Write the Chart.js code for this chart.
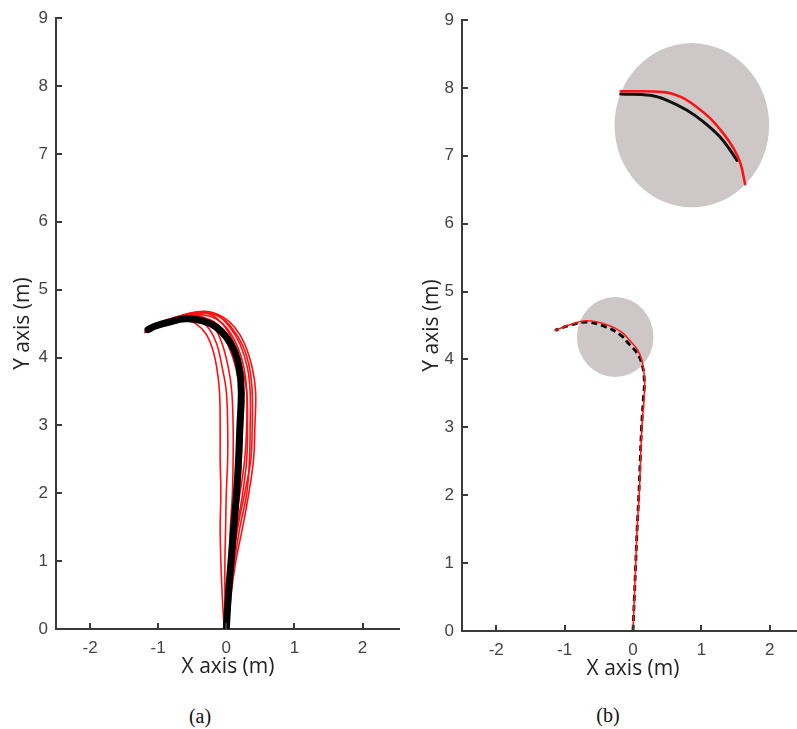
<!DOCTYPE html>
<html>
<head>
<meta charset="utf-8">
<script src="https://cdn.jsdelivr.net/npm/chart.js@4.4.1/dist/chart.umd.min.js"></script>
<style>
  html, body { margin: 0; padding: 0; background: #fff; overflow: hidden; }
  body { width: 797px; height: 729px; position: relative; }
  .panel { position: absolute; top: 0; }
  #chartA { left: 0; }
  #chartB { left: 400px; }
  .caption {
    position: absolute;
    font-family: "Liberation Serif", "Times New Roman", serif;
    font-size: 20px;
    color: #111;
    transform: translate(-50%, -50%);
  }
</style>
</head>
<body>
<canvas id="chartA" class="panel" width="400" height="690"></canvas>
<canvas id="chartB" class="panel" width="420" height="690"></canvas>
<div class="caption" style="left:200px; top:716px;">(a)</div>
<div class="caption" style="left:608px; top:715px;">(b)</div>

<script>
// ---- data (metres) ----

// panel (a): reference path (thick black)
const refAX = [0, 0.03, 0.07, 0.11, 0.15, 0.18, 0.2, 0.22, 0.19, 0.12, 0.0, -0.15, -0.35, -0.6, -0.85, -1.05, -1.15];
const refAY = [0, 0.5, 1.0, 1.5, 2.0, 2.5, 3.0, 3.5, 3.85, 4.1, 4.3, 4.45, 4.54, 4.57, 4.52, 4.46, 4.41];

// panel (a): recorded runs (red), [x, y]
const runA1 = [[-0.03,0],[-0.06,0.5],[-0.08,1.0],[-0.09,1.5],[-0.08,2.0],[-0.09,2.5],[-0.09,3.0],[-0.1,3.5],[-0.14,3.85],[-0.2,4.12],[-0.3,4.35],[-0.45,4.5],[-0.62,4.56],[-0.82,4.54],[-1.0,4.47],[-1.15,4.4]];
const runA2 = [[-0.01,0],[-0.02,0.5],[-0.02,1.0],[-0.01,1.5],[0.0,2.0],[0.02,2.5],[0.02,3.0],[0.0,3.5],[-0.06,3.85],[-0.14,4.2],[-0.25,4.42],[-0.4,4.55],[-0.6,4.6],[-0.8,4.56],[-1.0,4.48],[-1.18,4.38]];
const runA3 = [[0.0,0],[0.02,0.5],[0.04,1.0],[0.06,1.5],[0.09,2.0],[0.1,2.5],[0.1,3.0],[0.08,3.5],[0.03,3.85],[-0.06,4.2],[-0.18,4.45],[-0.35,4.6],[-0.55,4.63],[-0.8,4.58],[-1.0,4.5],[-1.17,4.42]];
const runA4 = [[0.02,0],[0.06,0.5],[0.1,1.0],[0.16,1.5],[0.24,2.0],[0.3,2.5],[0.31,3.0],[0.3,3.5],[0.23,3.85],[0.12,4.2],[-0.02,4.45],[-0.2,4.62],[-0.4,4.66],[-0.65,4.62],[-0.9,4.52],[-1.15,4.4]];
const runA5 = [[0.01,0],[0.05,0.5],[0.12,1.0],[0.2,1.5],[0.3,2.0],[0.34,2.5],[0.35,3.0],[0.35,3.5],[0.31,3.85],[0.2,4.2],[0.05,4.45],[-0.12,4.62],[-0.3,4.68],[-0.55,4.65],[-0.85,4.55],[-1.12,4.42]];
const runA6 = [[0.03,0],[0.07,0.5],[0.14,1.0],[0.24,1.5],[0.33,2.0],[0.4,2.5],[0.42,3.0],[0.43,3.5],[0.38,3.85],[0.27,4.2],[0.12,4.45],[-0.05,4.6],[-0.25,4.67],[-0.5,4.66],[-0.8,4.57],[-1.1,4.44]];
const runA7 = [[0.0,0],[0.03,0.5],[0.08,1.0],[0.12,1.5],[0.16,2.0],[0.2,2.5],[0.24,3.0],[0.25,3.5],[0.2,3.85],[0.1,4.2],[-0.04,4.4],[-0.22,4.55],[-0.45,4.6],[-0.7,4.58],[-0.95,4.49],[-1.2,4.37]];
const runA8 = [[-0.02,0],[0.01,0.5],[0.05,1.0],[0.1,1.5],[0.2,2.0],[0.27,2.5],[0.3,3.0],[0.3,3.5],[0.26,3.85],[0.17,4.15],[0.02,4.42],[-0.15,4.57],[-0.35,4.63],[-0.6,4.62],[-0.88,4.53],[-1.16,4.41]];
const runA9 = [[0.01,0],[0.04,0.5],[0.09,1.0],[0.14,1.5],[0.19,2.0],[0.22,2.5],[0.23,3.0],[0.2,3.5],[0.14,3.85],[0.04,4.15],[-0.1,4.4],[-0.28,4.55],[-0.5,4.61],[-0.75,4.57],[-1.0,4.48],[-1.19,4.39]];
const runA10 = [[0.02,0],[0.05,0.5],[0.1,1.0],[0.17,1.5],[0.27,2.0],[0.36,2.5],[0.38,3.0],[0.38,3.5],[0.34,3.85],[0.24,4.18],[0.08,4.44],[-0.1,4.6],[-0.32,4.66],[-0.58,4.63],[-0.86,4.54],[-1.13,4.41]];

// panel (b): reference (black) and mean run (red)
const refBX = [0, 0.02, 0.04, 0.06, 0.085, 0.105, 0.125, 0.15, 0.165, 0.12, 0.04, -0.06, -0.18, -0.4, -0.67, -0.9, -1.14];
const refBY = [0, 0.5, 1.0, 1.5, 2.0, 2.5, 3.0, 3.4, 3.7, 3.97, 4.12, 4.23, 4.36, 4.48, 4.55, 4.51, 4.43];
const runBX = [0, 0.02, 0.04, 0.06, 0.09, 0.11, 0.13, 0.16, 0.17, 0.13, 0.06, -0.04, -0.16, -0.38, -0.67, -0.9, -1.14];
const runBY = [0, 0.5, 1.0, 1.5, 2.0, 2.5, 3.0, 3.4, 3.7, 3.99, 4.15, 4.27, 4.4, 4.51, 4.57, 4.52, 4.43];

// panel (b): magnified view of the turn
const zoomRefX = [-0.18, 0.25, 0.49, 0.79, 1.03, 1.27, 1.45, 1.52];
const zoomRefY = [7.91, 7.89, 7.82, 7.67, 7.50, 7.28, 7.04, 6.93];
const zoomRunX = [-0.18, 0.44, 0.69, 0.93, 1.13, 1.32, 1.47, 1.57, 1.64];
const zoomRunY = [7.95, 7.94, 7.87, 7.72, 7.55, 7.33, 7.11, 6.89, 6.58];

// panel (b): shaded circles (centre x, centre y, radius x, radius y)
const circleX = [-0.26, 0.86];
const circleY = [4.33, 7.45];
const circleRX = [0.56, 1.13];
const circleRY = [0.59, 1.21];

const xTickValues = [-2, -1, 0, 1, 2];
const yTickValues = [0, 1, 2, 3, 4, 5, 6, 7, 8, 9];

// ---- styling ----
const axisColor = '#3a3a3a';
const tickColor = '#444';
const shadeColor = '#cdc7c7';

const toPoints = (xs, ys) => xs.map((x, i) => ({ x: x, y: ys[i] }));
const pairsToPoints = pairs => pairs.map(p => ({ x: p[0], y: p[1] }));

// tick marks pointing into the plot, like MATLAB
const inwardTicks = {
  id: 'inwardTicks',
  afterDraw(chart) {
    const { ctx, chartArea, scales } = chart;
    ctx.save();
    ctx.strokeStyle = axisColor;
    ctx.lineWidth = 2;
    ctx.beginPath();
    scales.x.ticks.forEach(t => {
      const px = Math.round(scales.x.getPixelForValue(t.value));
      ctx.moveTo(px, chartArea.bottom);
      ctx.lineTo(px, chartArea.bottom - 6);
    });
    scales.y.ticks.forEach(t => {
      const py = Math.round(scales.y.getPixelForValue(t.value));
      ctx.moveTo(chartArea.left, py);
      ctx.lineTo(chartArea.left + 6, py);
    });
    ctx.stroke();
    ctx.restore();
  }
};

const shadeCircles = {
  id: 'shadeCircles',
  beforeDatasetsDraw(chart, args, opts) {
    const n = opts.cx ? opts.cx.length : 0;
    const { ctx, scales: { x, y } } = chart;
    ctx.save();
    ctx.fillStyle = shadeColor;
    for (let i = 0; i < n; i++) {
      const cx = x.getPixelForValue(opts.cx[i]);
      const cy = y.getPixelForValue(opts.cy[i]);
      const rx = Math.abs(x.getPixelForValue(opts.cx[i] + opts.rx[i]) - cx);
      const ry = Math.abs(y.getPixelForValue(opts.cy[i] + opts.ry[i]) - cy);
      ctx.beginPath();
      ctx.ellipse(cx, cy, rx, ry, 0, 0, Math.PI * 2);
      ctx.fill();
    }
    ctx.restore();
  }
};

const line = (data, color, width, extra) => Object.assign({
  data: data,
  showLine: true,
  borderColor: color,
  backgroundColor: color,
  borderWidth: width,
  pointRadius: 0,
  tension: 0.4,
  borderCapStyle: 'round',
  borderJoinStyle: 'round'
}, extra || {});

const makeOptions = (cfg) => ({
  responsive: false,
  animation: false,
  layout: { padding: cfg.padding },
  plugins: {
    legend: { display: false },
    tooltip: { enabled: false },
    shadeCircles: cfg.circles || {}
  },
  scales: {
    x: {
      type: 'linear',
      min: -2.5,
      max: cfg.xMax,
      afterBuildTicks: s => { s.ticks = xTickValues.map(v => ({ value: v })); },
      afterFit: s => { s.height = 51; },
      grid: { drawOnChartArea: false, drawTicks: false },
      border: { display: true, color: axisColor, width: 2 },
      ticks: {
        color: tickColor,
        padding: 9,
        font: { family: '"Liberation Sans", Arial, sans-serif', size: 17 }
      },
      title: {
        display: true,
        text: 'X axis (m)',
        color: '#222',
        padding: 0,
        font: { family: '"Open Sans", sans-serif', size: 21 }
      }
    },
    y: {
      type: 'linear',
      min: 0,
      max: 9,
      afterBuildTicks: s => { s.ticks = yTickValues.map(v => ({ value: v })); },
      afterFit: s => { s.width = cfg.yWidth; },
      grid: { drawOnChartArea: false, drawTicks: false },
      border: { display: true, color: axisColor, width: 2 },
      ticks: {
        color: tickColor,
        padding: 8,
        font: { family: '"Liberation Sans", Arial, sans-serif', size: 17 }
      },
      title: {
        display: true,
        text: 'Y axis (m)',
        color: '#222',
        padding: 0,
        font: { family: '"Open Sans", sans-serif', size: 21 }
      }
    }
  }
});

// ---- panel (a) ----
// chart.js paints dataset 0 last, so the thick reference goes first to sit on top
const runsA = [runA1, runA2, runA3, runA4, runA5, runA6, runA7, runA8, runA9, runA10];
new Chart(document.getElementById('chartA'), {
  type: 'scatter',
  data: {
    datasets: [line(toPoints(refAX, refAY), '#000', 7)]
      .concat(runsA.map(r => line(pairsToPoints(r), '#ff1010', 1.6)))
  },
  options: makeOptions({
    xMax: 2.55,
    yWidth: 46,
    padding: { left: 10, top: 17, right: 0, bottom: 10 }
  }),
  plugins: [inwardTicks]
});

// ---- panel (b) ----
new Chart(document.getElementById('chartB'), {
  type: 'scatter',
  data: {
    datasets: [
      line(toPoints(zoomRunX, zoomRunY), '#ff1010', 2.5),
      line(toPoints(zoomRefX, zoomRefY), '#111', 3),
      line(toPoints(runBX, runBY), '#ff1a1a', 1.6),
      line(toPoints(refBX, refBY), '#000', 2.8, { borderDash: [6, 4], borderCapStyle: 'butt' })
    ]
  },
  options: makeOptions({
    xMax: 2.5,
    yWidth: 43,
    padding: { left: 19, top: 20, right: 16, bottom: 8 },
    circles: { cx: circleX, cy: circleY, rx: circleRX, ry: circleRY }
  }),
  plugins: [shadeCircles, inwardTicks]
});
</script>
</body>
</html>
